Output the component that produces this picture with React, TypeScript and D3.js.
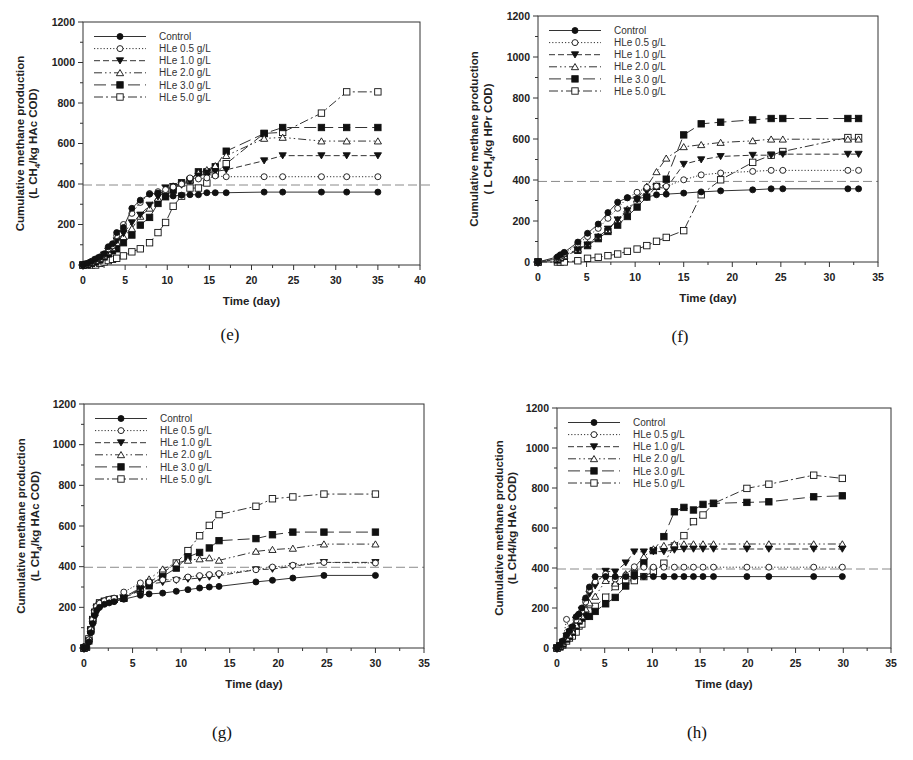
import React from "react";
import * as d3 from "d3";

// ---------- DATA ----------
const seriesLabels = ["Control", "HLe 0.5 g/L", "HLe 1.0 g/L", "HLe 2.0 g/L", "HLe 3.0 g/L", "HLe 5.0 g/L"];
const yTicks = [0, 200, 400, 600, 800, 1000, 1200];
const panelLetters = ["(e)", "(f)", "(g)", "(h)"];
const yLabelLine1 = "Cumulative methane production";
const yLabelLine2 = [
  ["(L CH", "4", "/kg HAc COD)"],
  ["( L CH", "4", "/kg HPr COD)"],
  ["(L CH", "4", "/kg HAc COD)"],
  ["(L CH4/kg HAc COD)", "", ""],
];
const xTitle = "Time (day)";
const xMaxes = [40, 35, 35, 35];
const refValues = [395, 393, 397, 395];

// Panel (e)
const eTimes = [0, 0.5, 1, 1.5, 2, 2.5, 3, 3.5, 4, 4.8, 5.8, 6.8, 7.9, 8.9, 9.8, 10.7, 11.7, 12.7, 13.7, 14.7, 15.7, 17, 21.5, 23.7, 28.3, 31.3, 35];
const eControl = [0, 8, 18, 30, 40, 55, 90, 105, 160, 185, 280, 320, 350, 355, 340, 341, 345, 347, 347, 357, 357, 357, 360, 360, 360, 360, 360];
const eHLe05 = [0, 5, 15, 28, 38, 52, 80, 95, 145, 200, 255, 309, 353, 362, 372, 385, 400, 430, 425, 430, 440, 436, 436, 436, 436, 436, 436];
const eHLe10 = [0, 5, 12, 25, 35, 50, 70, 90, 120, 156, 209, 247, 296, 337, 381, 388, 395, 415, 440, 455, 462, 470, 515, 540, 540, 540, 540];
const eHLe20 = [0, 5, 12, 22, 32, 45, 65, 85, 110, 140, 180, 240, 280, 330, 370, 390, 405, 420, 455, 470, 490, 540, 625, 630, 612, 612, 612];
const eHLe30 = [0, 3, 8, 15, 25, 40, 55, 70, 80, 110, 148, 197, 235, 304, 337, 370, 406, 419, 460, 460, 485, 562, 649, 679, 679, 679, 679];
const eHLe50 = [0, 0, 0, 0, 8, 15, 22, 28, 33, 45, 65, 80, 110, 160, 210, 290, 340, 380, 380, 405, 450, 500, 650, 655, 750, 855, 855];

// Panel (f)
const fTimes = [0, 2, 2.3, 2.7, 4.1, 5.1, 6.2, 7.2, 8.2, 9.2, 10.2, 11.2, 12.2, 13.2, 15, 16.8, 18.8, 22.1, 24, 25.2, 31.9, 33];
const fControl = [0, 25, 35, 47, 97, 140, 185, 241, 292, 314, 310, 316, 328, 331, 336, 342, 347, 352, 357, 357, 357, 357];
const fHLe05 = [0, 20, 28, 40, 88, 124, 164, 213, 262, 313, 340, 364, 370, 369, 401, 425, 434, 442, 447, 447, 447, 447];
const fHLe10 = [0, 15, 25, 35, 60, 84, 122, 161, 206, 250, 304, 344, 365, 359, 477, 499, 515, 521, 521, 526, 526, 526];
const fHLe20 = [0, 15, 22, 30, 62, 90, 125, 157, 206, 258, 308, 369, 440, 506, 562, 572, 583, 591, 599, 599, 599, 599];
const fHLe30 = [0, 10, 20, 28, 57, 80, 114, 149, 180, 222, 268, 317, 369, 404, 620, 674, 682, 693, 700, 700, 700, 700];
const fHLe50 = [0, 0, 0, 0, 6, 18, 23, 31, 39, 52, 63, 80, 101, 120, 153, 328, 401, 486, 521, 539, 607, 607];

// Panel (g)
const gTimes = [0, 0.25, 0.5, 0.7, 0.9, 1.1, 1.3, 1.6, 2.1, 2.6, 3.1, 4.1, 5.8, 6.7, 8.1, 9.5, 10.7, 11.9, 12.9, 13.9, 17.7, 19.4, 21.5, 24.7, 30];
const gControl = [0, 5, 30, 75, 120, 160, 185, 200, 215, 222, 228, 240, 259, 266, 270, 279, 287, 295, 300, 303, 325, 333, 344, 357, 357];
const gHLe05 = [0, 8, 40, 90, 140, 180, 205, 220, 232, 240, 245, 275, 320, 325, 335, 336, 349, 356, 361, 366, 385, 398, 407, 421, 418];
const gHLe10 = [0, 5, 30, 80, 130, 170, 195, 210, 220, 225, 230, 245, 290, 315, 323, 333, 339, 344, 349, 356, 385, 388, 402, 421, 421];
const gHLe20 = [0, 8, 45, 95, 145, 185, 210, 222, 232, 240, 245, 250, 295, 339, 388, 418, 431, 438, 443, 431, 475, 484, 490, 511, 511];
const gHLe30 = [0, 5, 35, 85, 135, 175, 200, 215, 228, 235, 240, 245, 290, 306, 352, 393, 448, 470, 492, 528, 538, 557, 570, 570, 570];
const gHLe50 = [0, 5, 45, 90, 140, 175, 200, 222, 230, 236, 240, 245, 284, 320, 369, 418, 479, 552, 603, 656, 697, 734, 743, 757, 757];

// Panel (h)
const hTimes = [0, 0.3, 0.6, 1.0, 1.3, 1.6, 2.0, 2.3, 2.6, 3.0, 3.4, 4.0, 5.1, 6.1, 7.2, 8.1, 9.1, 10.1, 11.2, 12.3, 13.3, 14.3, 15.3, 16.4, 19.9, 22.2, 26.9, 29.9];
const hControl = [0, 15, 35, 65, 85, 106, 156, 170, 200, 250, 305, 357, 357, 357, 357, 357, 357, 357, 357, 357, 357, 357, 357, 357, 357, 357, 357, 357];
const hHLe05 = [0, 10, 30, 143, 80, 100, 140, 160, 185, 230, 290, 331, 370, 345, 364, 406, 404, 404, 404, 404, 404, 404, 404, 404, 404, 404, 404, 404];
const hHLe10 = [0, 12, 30, 60, 80, 100, 140, 160, 190, 230, 270, 311, 384, 380, 426, 481, 481, 482, 482, 490, 495, 495, 495, 495, 495, 495, 495, 495];
const hHLe20 = [0, 10, 25, 50, 65, 85, 115, 140, 160, 195, 225, 258, 337, 324, 371, 402, 457, 495, 512, 520, 520, 520, 520, 520, 520, 520, 520, 520];
const hHLe30 = [0, 8, 20, 45, 60, 80, 110, 135, 150, 160, 158, 183, 221, 253, 310, 366, 424, 487, 557, 681, 703, 690, 718, 723, 728, 731, 756, 761];
const hHLe50 = [0, 5, 15, 35, 50, 60, 80, 110, 120, 160, 185, 208, 254, 307, 334, 337, 357, 382, 424, 510, 562, 632, 665, 723, 798, 819, 864, 848];

const panelTimes = [eTimes, fTimes, gTimes, hTimes];
const panelSeries = [
  [eControl, eHLe05, eHLe10, eHLe20, eHLe30, eHLe50],
  [fControl, fHLe05, fHLe10, fHLe20, fHLe30, fHLe50],
  [gControl, gHLe05, gHLe10, gHLe20, gHLe30, gHLe50],
  [hControl, hHLe05, hHLe10, hHLe20, hHLe30, hHLe50],
];

// ---------- LAYOUT / STYLE ----------
const W = 913, H = 760;
const frames = [
  { left: 83, top: 22, right: 420, bottom: 265, refExt: 12, yl1: -63, yl2: -50, lab: [230, 340] },
  { left: 538, top: 16, right: 878, bottom: 262, refExt: 0, yl1: -64, yl2: -50, lab: [680, 342] },
  { left: 84, top: 404, right: 424, bottom: 648, refExt: 0, yl1: -63, yl2: -49, lab: [222, 738] },
  { left: 557, top: 408, right: 891, bottom: 648, refExt: 0, yl1: -58, yl2: -45, lab: [697, 738] },
];
const dashes = ["none", "1.2,2", "6,3", "8,3,1.5,3,1.5,3", "12,5", "9,3,2,3"];
const markerKinds = ["fcircle", "ocircle", "ftridown", "otriup", "fsquare", "osquare"];
const sans = "'Liberation Sans', Arial, Helvetica, sans-serif";
const ink = "#222";

function Marker({ kind, x, y }: { kind: string; x: number; y: number }) {
  const filled = kind.startsWith("f");
  const fill = filled ? "#111" : "#fff";
  const stroke = "#111";
  if (kind.endsWith("circle")) return <circle cx={x} cy={y} r={3} fill={fill} stroke={stroke} strokeWidth={0.9} />;
  if (kind.endsWith("square")) return <rect x={x - 3.2} y={y - 3.2} width={6.4} height={6.4} fill={fill} stroke={stroke} strokeWidth={0.9} />;
  const s = 3.6;
  const pts = kind === "ftridown"
    ? `${x - s},${y - s * 0.8} ${x + s},${y - s * 0.8} ${x},${y + s * 0.9}`
    : `${x - s},${y + s * 0.8} ${x + s},${y + s * 0.8} ${x},${y - s * 0.9}`;
  return <polygon points={pts} fill={fill} stroke={stroke} strokeWidth={0.9} />;
}

function Panel({ idx }: { idx: number }) {
  const f = frames[idx];
  const x = d3.scaleLinear().domain([0, xMaxes[idx]]).range([f.left, f.right]);
  const y = d3.scaleLinear().domain([0, 1200]).range([f.bottom, f.top]);
  const times = panelTimes[idx];
  const xMajor = d3.range(0, xMaxes[idx] + 0.01, 5);
  const xMinor = d3.range(2.5, xMaxes[idx], 5);
  const yMinor = d3.range(100, 1200, 200);
  const line = d3.line<[number, number]>().x((d) => x(d[0])).y((d) => y(d[1]));
  const cy = (f.top + f.bottom) / 2;
  const l2 = yLabelLine2[idx];
  const order = [5, 4, 3, 2, 1, 0];
  return (
    <g>
      {/* reference line */}
      <line x1={f.left} x2={f.right + f.refExt} y1={y(refValues[idx])} y2={y(refValues[idx])}
        stroke="#8a8a8a" strokeWidth={1} strokeDasharray="9,4" />
      {/* frame */}
      <rect x={f.left} y={f.top} width={f.right - f.left} height={f.bottom - f.top} fill="none" stroke="#333" strokeWidth={1} />
      {/* y ticks */}
      {yTicks.map((t) => (
        <g key={"y" + t}>
          <line x1={f.left - 5} x2={f.left} y1={y(t)} y2={y(t)} stroke="#333" />
          <text x={f.left - 8} y={y(t) + 3.6} textAnchor="end" fontFamily={sans} fontWeight="bold" fontSize={10.5} fill={ink}>{t}</text>
        </g>
      ))}
      {yMinor.map((t) => <line key={"ym" + t} x1={f.left - 3} x2={f.left} y1={y(t)} y2={y(t)} stroke="#333" />)}
      {/* x ticks */}
      {xMajor.map((t) => (
        <g key={"x" + t}>
          <line x1={x(t)} x2={x(t)} y1={f.bottom} y2={f.bottom + 5} stroke="#333" />
          <text x={x(t)} y={f.bottom + 19} textAnchor="middle" fontFamily={sans} fontWeight="bold" fontSize={10.5} fill={ink}>{t}</text>
        </g>
      ))}
      {xMinor.map((t) => <line key={"xm" + t} x1={x(t)} x2={x(t)} y1={f.bottom} y2={f.bottom + 3} stroke="#333" />)}
      {/* axis titles */}
      <text x={(f.left + f.right) / 2} y={f.bottom + 40} textAnchor="middle" fontFamily={sans} fontWeight="bold" fontSize={11.5} fill={ink}>{xTitle}</text>
      <text transform={`translate(${f.left + f.yl1},${cy}) rotate(-90)`} textAnchor="middle" dy="0.35em" fontFamily={sans} fontWeight="bold" fontSize={11.5} fill={ink}>{yLabelLine1}</text>
      <text transform={`translate(${f.left + f.yl2},${cy}) rotate(-90)`} textAnchor="middle" dy="0.35em" fontFamily={sans} fontWeight="bold" fontSize={11.5} fill={ink}>
        {l2[0]}
        {l2[1] ? <tspan dy={3} fontSize={8}>{l2[1]}</tspan> : null}
        {l2[2] ? <tspan dy={-3}>{l2[2]}</tspan> : null}
      </text>
      {/* series */}
      {order.map((si) => {
        const vals = panelSeries[idx][si];
        const pts: [number, number][] = times.map((t, i) => [t, vals[i]]);
        return (
          <g key={"s" + si}>
            <path d={line(pts) || ""} fill="none" stroke="#333" strokeWidth={1} strokeDasharray={dashes[si]} />
            {pts.map((p, i) => <Marker key={i} kind={markerKinds[si]} x={x(p[0])} y={y(p[1])} />)}
          </g>
        );
      })}
      {/* legend */}
      {seriesLabels.map((lab, i) => {
        const ly = f.top + 14.5 + i * 12.1;
        const lx0 = f.left + 11, lx1 = f.left + 63;
        return (
          <g key={"lg" + i}>
            <line x1={lx0} x2={lx1} y1={ly} y2={ly} stroke="#333" strokeWidth={1} strokeDasharray={dashes[i]} />
            <Marker kind={markerKinds[i]} x={(lx0 + lx1) / 2} y={ly} />
            <text x={f.left + 76} y={ly + 3.6} fontFamily={sans} fontSize={10} fill="#333">{lab}</text>
          </g>
        );
      })}
      {/* panel letter */}
      <text x={f.lab[0]} y={f.lab[1]} textAnchor="middle" fontFamily="'Liberation Serif', 'DejaVu Serif', serif" fontSize={17} fill="#111">{panelLetters[idx]}</text>
    </g>
  );
}

export default function App() {
  return (
    <svg width={W} height={H} style={{ position: "absolute", left: 0, top: 0, background: "#fff" }}>
      <rect x={0} y={0} width={W} height={H} fill="#fff" />
      {[0, 1, 2, 3].map((i) => <Panel key={i} idx={i} />)}
    </svg>
  );
}
